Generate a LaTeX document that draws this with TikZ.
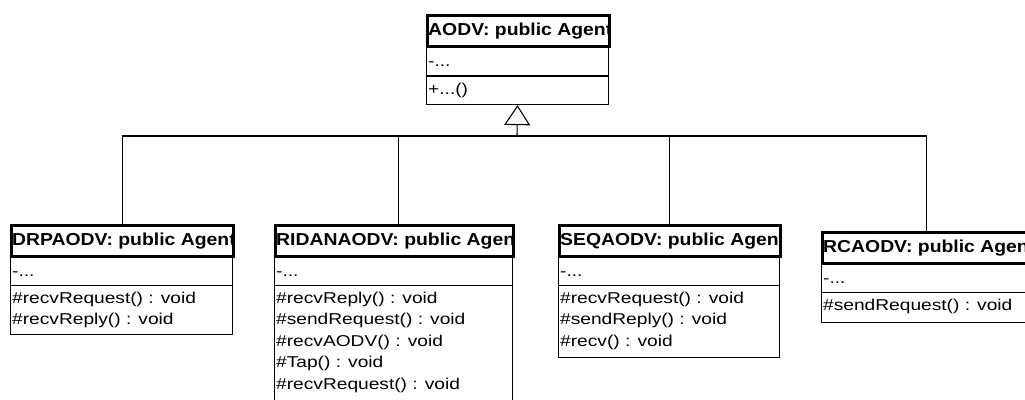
\documentclass[tikz,border=0pt]{standalone}
\usepackage{fontspec}
\usetikzlibrary{arrows.meta}
\newfontfamily\titlefont[FakeStretch=1.12]{Liberation Sans}
\newfontfamily\bodyfont[FakeStretch=1.22]{Liberation Sans}

\tikzset{
  titlebox/.style={draw, line width=2.6pt, rectangle, anchor=north west,
    inner sep=0pt, minimum height=31pt},
  compbox/.style={draw, line width=1.1pt, rectangle, anchor=north west,
    inner sep=0pt},
  titletext/.style={anchor=base west, inner sep=0pt,
    font=\titlefont\bfseries\fontsize{17.3}{20}\selectfont},
  bodytext/.style={anchor=base west, inner sep=0pt,
    font=\bodyfont\fontsize{15.7}{21}\selectfont},
  link/.style={line width=1.1pt},
  inherit/.style={line width=1.1pt,
    -{Triangle[open, length=20pt, width=26pt, fill=white]}},
}

\begin{document}
\begin{tikzpicture}[x=1pt,y=-1pt]
\clip (0,0) rectangle (1025,399);
\fill[white] (0,0) rectangle (1025,399);

% ---------- class frames ----------
% AODV (base class)
\node[compbox, minimum width=182pt, minimum height=31pt] (aodv-attr) at (426,45) {};
\node[compbox, minimum width=182pt, minimum height=29pt] (aodv-ops) at (426,75) {};
\node[titlebox, minimum width=182pt] (aodv) at (426,14) {};

% DRPAODV
\node[compbox, minimum width=222pt, minimum height=30pt] (drp-attr) at (10,255) {};
\node[compbox, minimum width=222pt, minimum height=49pt] (drp-ops) at (10,285) {};
\node[titlebox, minimum width=222pt] (drp) at (10,224) {};

% RIDANAODV
\node[compbox, minimum width=238pt, minimum height=30pt] (rid-attr) at (274,255) {};
\node[compbox, minimum width=238pt, minimum height=130pt] (rid-ops) at (274,285) {};
\node[titlebox, minimum width=238pt] (rid) at (274,224) {};

% SEQAODV
\node[compbox, minimum width=221pt, minimum height=30pt] (seq-attr) at (558,255) {};
\node[compbox, minimum width=221pt, minimum height=72pt] (seq-ops) at (558,285) {};
\node[titlebox, minimum width=221pt] (seq) at (558,224) {};

% RCAODV
\node[compbox, minimum width=208pt, minimum height=30pt] (rca-attr) at (821,262) {};
\node[compbox, minimum width=208pt, minimum height=30pt] (rca-ops) at (821,292) {};
\node[titlebox, minimum width=208pt] (rca) at (821,231) {};

% ---------- generalization ----------
\coordinate (bus) at (517,136);
\draw[link] (drp.north) |- (bus);
\draw[link] ([xshift=4pt]rid.north) |- (bus);
\draw[link] (seq.north) |- (bus);
\draw[link] (rca.north) |- (bus);
\draw[inherit] (bus) -- (aodv-ops.south);

% ---------- titles (clipped to their compartments) ----------
\begin{scope}
  \clip (aodv.north west) rectangle (aodv.south east);
  \node[titletext] (aodv-name) at ([shift={(2,21)}]aodv.north west) {AODV: public Agent};
\end{scope}
\begin{scope}
  \clip (drp.north west) rectangle (drp.south east);
  \node[titletext] (drp-name) at ([shift={(2,21)}]drp.north west) {DRPAODV: public Agent};
\end{scope}
\begin{scope}
  \clip (rid.north west) rectangle (rid.south east);
  \node[titletext] (rid-name) at ([shift={(2,21)}]rid.north west) {RIDANAODV: public Agent};
\end{scope}
\begin{scope}
  \clip (seq.north west) rectangle (seq.south east);
  \node[titletext] (seq-name) at ([shift={(2,21)}]seq.north west) {SEQAODV: public Agent};
\end{scope}
\begin{scope}
  \clip (rca.north west) rectangle (rca.south east);
  \node[titletext] (rca-name) at ([shift={(2,21)}]rca.north west) {RCAODV: public Agent};
\end{scope}

% ---------- attributes ----------
\foreach \c in {aodv,drp,rid,seq,rca}
  \node[bodytext] (\c-a1) at ([shift={(2,21)}]\c-attr.north west) {-...};

% ---------- operations ----------
\node[bodytext] (aodv-o1) at ([shift={(2,19)}]aodv-ops.north west) {+...()};

\foreach \t [count=\i from 0] in {\#recvRequest() : void, \#recvReply() : void}
  \node[bodytext] (drp-o\i) at ([shift={(2,18+21.5*\i)}]drp-ops.north west) {\t};

\foreach \t [count=\i from 0] in {\#recvReply() : void, \#sendRequest() : void,
    \#recvAODV() : void, \#Tap() : void, \#recvRequest() : void}
  \node[bodytext] (rid-o\i) at ([shift={(2,18+21.5*\i)}]rid-ops.north west) {\t};

\foreach \t [count=\i from 0] in {\#recvRequest() : void, \#sendReply() : void, \#recv() : void}
  \node[bodytext] (seq-o\i) at ([shift={(2,18+21.5*\i)}]seq-ops.north west) {\t};

\node[bodytext] (rca-o0) at ([shift={(2,18)}]rca-ops.north west) {\#sendRequest() : void};
\end{tikzpicture}
\end{document}
